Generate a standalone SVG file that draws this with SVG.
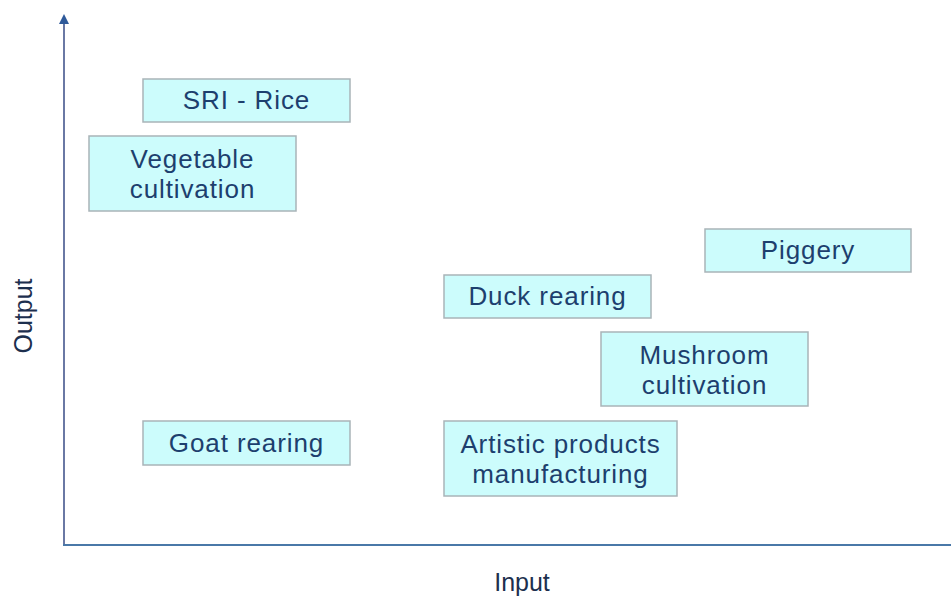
<svg xmlns="http://www.w3.org/2000/svg" width="951" height="599" viewBox="0 0 951 599">
<style>
.box{fill:#ccfcfc;stroke:#a9b4b8;stroke-width:1.5}
.t{font-family:"Liberation Sans",Arial,sans-serif;font-size:26px;letter-spacing:0.9px;fill:#1d3f6e;text-anchor:middle}
.ax{stroke:#6a78a4;stroke-width:2;fill:none}
.lbl{font-family:"Liberation Sans",Arial,sans-serif;font-size:25px;fill:#1d2f4e;text-anchor:middle}
</style>
<defs>
<marker id="ah" markerWidth="10" markerHeight="10" refX="5" refY="5" orient="auto" markerUnits="userSpaceOnUse">
<path d="M0,10 L5,0 L10,10 Z" fill="#2f5a9a" transform="rotate(90 5 5)"/>
</marker>
</defs>
<g id="axes">
<line class="ax" x1="64" y1="545" x2="64" y2="19" marker-end="url(#ah)"/>
<line x1="63" y1="545" x2="951" y2="545" stroke="#4a78a8" stroke-width="2"/>
</g>
<g id="labels">
<text class="lbl" x="522" y="591">Input</text>
<text class="lbl" transform="translate(32 316) rotate(-90)">Output</text>
</g>
<g id="sri"><rect class="box" x="143" y="79" width="207" height="43"/><text class="t" x="246.5" y="109">SRI - Rice</text></g>
<g id="veg"><rect class="box" x="89" y="136" width="207" height="75"/><text class="t" x="192.5" y="168">Vegetable</text><text class="t" x="192.5" y="198">cultivation</text></g>
<g id="piggery"><rect class="box" x="705" y="229" width="206" height="43"/><text class="t" x="808" y="259">Piggery</text></g>
<g id="duck"><rect class="box" x="444" y="275" width="207" height="43"/><text class="t" x="547.5" y="305">Duck rearing</text></g>
<g id="mushroom"><rect class="box" x="601" y="332" width="207" height="74"/><text class="t" x="704.5" y="364">Mushroom</text><text class="t" x="704.5" y="394">cultivation</text></g>
<g id="goat"><rect class="box" x="143" y="421" width="207" height="44"/><text class="t" x="246.5" y="452">Goat rearing</text></g>
<g id="artistic"><rect class="box" x="444" y="421" width="233" height="75"/><text class="t" x="560.5" y="453">Artistic products</text><text class="t" x="560.5" y="483">manufacturing</text></g>
</svg>
